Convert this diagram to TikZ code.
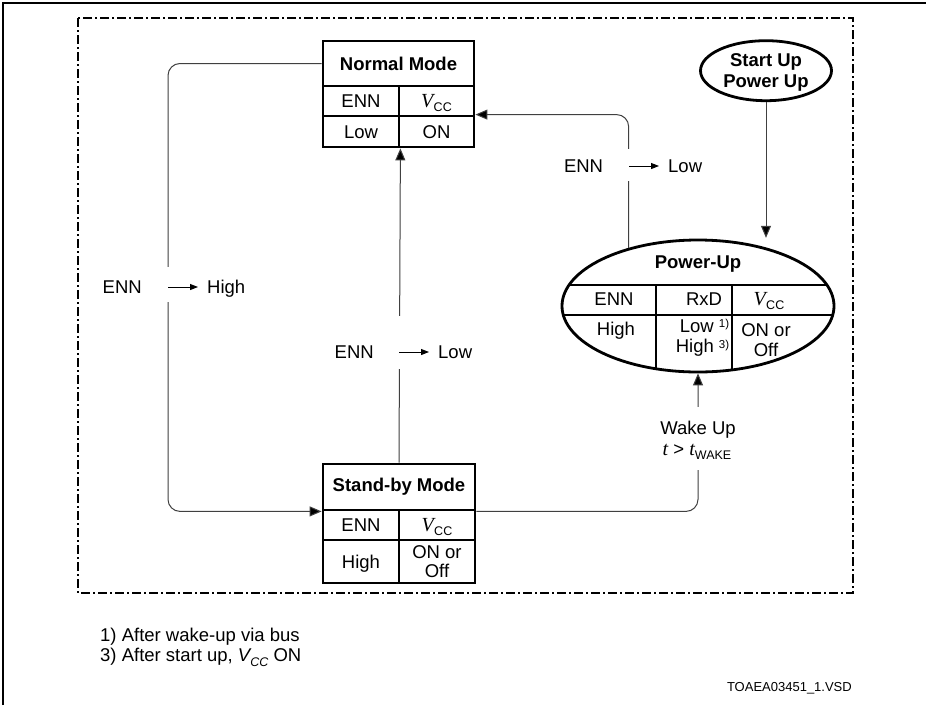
\documentclass[tikz,border=0pt]{standalone}
\usepackage{fontspec}
\setmainfont{Liberation Sans}
\newfontfamily\tnr{Liberation Serif}
\usetikzlibrary{arrows.meta,shapes.geometric}
\newcommand{\Vcc}{{\tnr\itshape\fontsize{20}{20}\selectfont V}\kern0.3pt\raisebox{-3.5pt}{\fontsize{12.5}{12.5}\selectfont CC}}
\newcommand{\fnm}[1]{\raisebox{4.5pt}{\fontsize{11.5}{11.5}\selectfont #1}}
\begin{document}
\begin{tikzpicture}[x=1pt,y=-1pt,
  every node/.style={font=\fontsize{18.5}{19.5}\selectfont, inner sep=0pt},
  txt/.style={text height=13.2pt, text depth=0pt},
  ttl/.style={font=\fontsize{18.5}{21}\selectfont\bfseries},
  cell/.style={draw, line width=2.8pt, rectangle, align=center},
  oval/.style={draw, line width=2.8pt, ellipse},
  conn/.style={draw=black!75, line width=1pt, rounded corners=12pt,
    -{Triangle[length=12pt,width=10pt,fill=black]}},
  lbl/.style={line width=1pt, -{Triangle[length=8pt,width=6pt]}},
  frame/.style={line width=2pt, dash pattern=on 9pt off 3pt on 2pt off 3pt}]
\useasboundingbox[fill=white] (0,0) rectangle (926,705);
% outer frame
\draw[line width=1.5pt] (3,705) -- (3,3) -- (926,3);
% dash-dot frame
\draw[frame] (78,18) rectangle (853,593);

% Normal Mode
\node[cell, ttl, minimum width=151pt, minimum height=45pt] (nmT) at (398.5,63.5) {Normal Mode};
\node[cell, txt, minimum width=76pt, minimum height=30pt] (nmA) at (361,101) {ENN};
\node[cell, txt, minimum width=75pt, minimum height=30pt] (nmB) at (436.5,101) {\Vcc};
\node[cell, txt, minimum width=76pt, minimum height=31pt] (nmC) at (361,131.5) {Low};
\node[cell, txt, minimum width=75pt, minimum height=31pt] (nmD) at (436.5,131.5) {ON};

% Stand-by Mode
\node[cell, ttl, minimum width=152pt, minimum height=46pt] (sbT) at (399,487) {Stand-by Mode};
\node[cell, txt, minimum width=76pt, minimum height=30pt] (sbA) at (361,525) {ENN};
\node[cell, txt, minimum width=76pt, minimum height=30pt] (sbB) at (437,525) {\Vcc};
\node[cell, txt, minimum width=76pt, minimum height=43pt] (sbC) at (361,561.5) {High};
\node[cell, minimum width=76pt, minimum height=43pt] (sbD) at (437,561.5) {ON or\\Off};

% Power-Up ellipse
\node[oval, minimum width=272pt, minimum height=132pt] (pu) at (698,306) {};
\begin{scope}
  \clip (698,306) ellipse [x radius=136pt, y radius=66pt];
  \draw[line width=2.4pt] (550,285) -- (850,285);
  \draw[line width=2.4pt] (550,315) -- (850,315);
  \draw[line width=2.4pt] (656,285) -- (656,380);
  \draw[line width=2.4pt] (731.7,285) -- (731.7,380);
\end{scope}
\node[ttl, txt] (puT) at (698,261.7) {Power-Up};
\node[txt] (puA) at (614,299) {ENN};
\node[txt] (puB) at (704,299) {RxD};
\node[txt] (puC) at (769,299) {\Vcc};
\node[txt] (puD) at (616,329) {High};
\node[align=right, font=\fontsize{18.5}{20.3}\selectfont] (puE) at (702.5,338) {Low \fnm{1)}\\High \fnm{3)}};
\node[align=center, font=\fontsize{18.5}{20.3}\selectfont] (puF) at (766,339.8) {ON or\\Off};

% Start Up ellipse
\node[oval, minimum width=131pt, minimum height=60pt] (su) at (766,70.7) {};
\node[ttl, align=center] (suT) at (766,72.2) {Start Up\\Power Up};

% connectors
\coordinate (Lx) at (168,0);
\draw[conn, shorten >=10pt] (su.south) -- (su.south |- pu.40);
\draw[conn] (pu.140) |- (nmD.north east);
\draw[conn] (sbT.north) -- (nmC.south east);
\draw[conn] (nmT.west) -| (Lx |- sbT.south west) -- (sbT.south west);
\draw[conn] (sbT.south east) -| (pu.south);

% gaps in connectors for labels
\fill[white] (163,267) rectangle (173,302);
\fill[white] (625,149) rectangle (635,181);
\fill[white] (394,316) rectangle (404,369);
\fill[white] (693,407) rectangle (703,470);

% transition labels
\node[txt, anchor=east] (l1a) at (142,287) {ENN};
\node[txt, anchor=west] (l1b) at (207,287) {High};
\draw[lbl] ([xshift=-39pt]l1b.west) -- ([xshift=-9pt]l1b.west);

\node[txt, anchor=east] (l2a) at (374,352) {ENN};
\node[txt, anchor=west] (l2b) at (438,352) {Low};
\draw[lbl] ([xshift=-39pt]l2b.west) -- ([xshift=-9pt]l2b.west);

\node[txt, anchor=east] (l3a) at (603.3,166) {ENN};
\node[txt, anchor=west] (l3b) at (668,166) {Low};
\draw[lbl] ([xshift=-39pt]l3b.west) -- ([xshift=-9pt]l3b.west);

\node[txt] (w1) at (698,428) {Wake Up};
\node[txt] (w2) at (697,449) {{\tnr\itshape\fontsize{20}{20}\selectfont t} > {\tnr\itshape\fontsize{20}{20}\selectfont t}\raisebox{-4pt}{\fontsize{12.5}{12.5}\selectfont WAKE}};

% footnotes
\node[txt, anchor=west] (f1) at (100,635) {1) After wake-up via bus};
\node[txt, anchor=west] (f2) at (100,655) {3) After start up, {\itshape V\raisebox{-5pt}{\fontsize{12.5}{12.5}\selectfont CC}} ON};
\node[font=\fontsize{13}{13}\selectfont, text height=9.4pt, text depth=0pt, anchor=east] (f3) at (852,687) {TOAEA03451\_1.VSD};
\end{tikzpicture}
\end{document}
